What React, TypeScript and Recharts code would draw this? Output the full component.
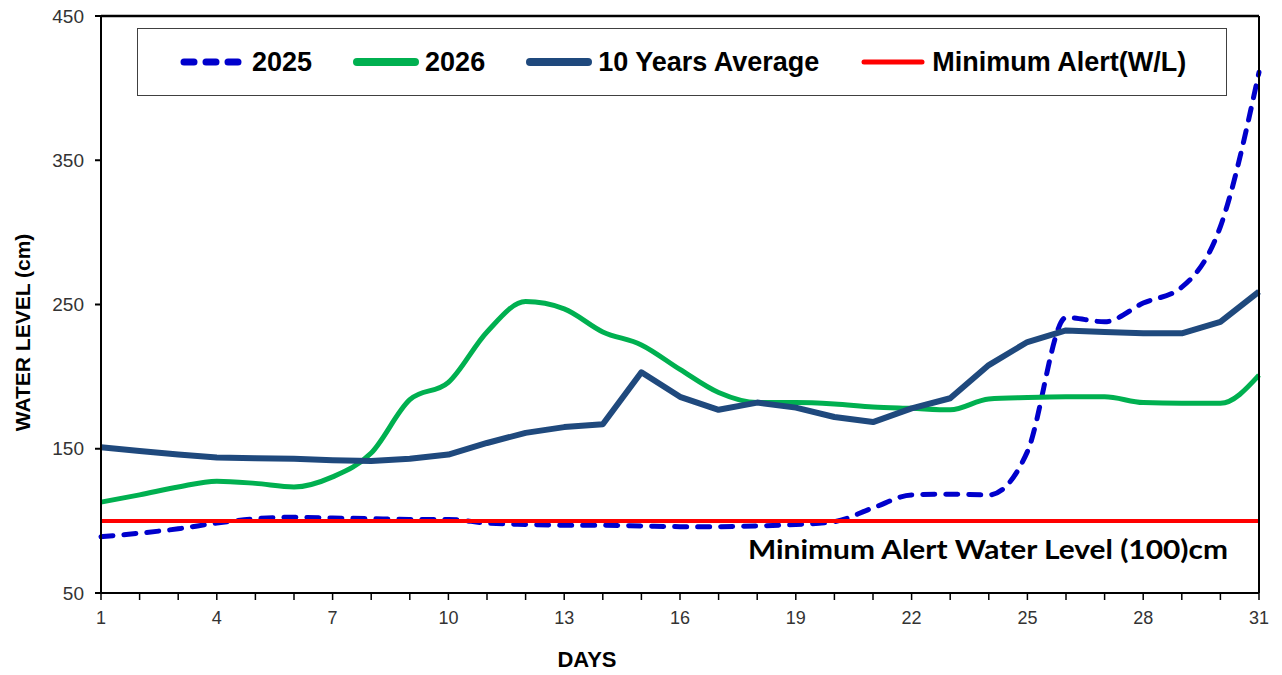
import React from "react";
import { LineChart, Line, XAxis, YAxis, Legend, ReferenceLine } from "recharts";

// daily water level readings (cm)
const days = [1, 2, 3, 4, 5, 6, 7, 8, 9, 10, 11, 12, 13, 14, 15, 16, 17, 18, 19, 20, 21, 22, 23, 24, 25, 26, 27, 28, 29, 30, 31];
const level2025 = [89, 91.5, 94.5, 98.5, 101.5, 102.5, 102, 101.5, 101, 101, 98.5, 97.5, 97, 97, 96.5, 96, 96, 96.5, 97.5, 99.5, 109, 118, 118.5, 118, 148, 241, 238, 251, 262, 304, 411];
const level2026 = [113, 118, 123.5, 127.5, 126, 123.5, 130.5, 147, 184, 196, 231, 252, 247, 231, 222, 205, 189, 182, 182, 181, 179, 178, 177, 184.5, 185.5, 186, 186, 182, 181.5, 181.5, 201];
const tenYearAvg = [151, 148.5, 146, 144, 143.5, 143, 142, 141.5, 143, 146, 154, 161, 165, 167, 203, 186, 177, 182, 178.5, 172, 168.5, 178, 185, 208, 224, 232, 231, 230, 230, 238, 259];
const minAlert = [100, 100, 100, 100, 100, 100, 100, 100, 100, 100, 100, 100, 100, 100, 100, 100, 100, 100, 100, 100, 100, 100, 100, 100, 100, 100, 100, 100, 100, 100, 100];

const yTicks = [50, 150, 250, 350, 450];
const labelledDays = [1, 4, 7, 10, 13, 16, 19, 22, 25, 28, 31];
const seriesOrder = ["y2025", "y2026", "avg", "alert"];

const data = days.map((day, i) => ({
  day,
  y2025: level2025[i],
  y2026: level2026[i],
  avg: tenYearAvg[i],
  alert: minAlert[i],
}));

const sans = "'Liberation Sans', Arial, sans-serif";

const sampleStyle: Record<string, { width: number; dash?: string }> = {
  y2025: { width: 7, dash: "10 12" },
  y2026: { width: 8 },
  avg: { width: 8 },
  alert: { width: 5 },
};

const LegendBox = ({ payload }: any) => {
  const items = [...(payload || [])].sort(
    (a: any, b: any) => seriesOrder.indexOf(a.dataKey) - seriesOrder.indexOf(b.dataKey)
  );
  return (
    <div
      style={{
        width: 1090,
        height: 68,
        boxSizing: "border-box",
        border: "1px solid #404040",
        background: "#fff",
        display: "flex",
        alignItems: "center",
        paddingLeft: 42,
        whiteSpace: "nowrap",
        overflow: "hidden",
      }}
    >
      {items.map((entry: any, i: number) => {
        const s = sampleStyle[entry.dataKey] || { width: 6 };
        return (
          <div
            key={entry.value}
            style={{ display: "flex", alignItems: "center", flexShrink: 0, marginRight: i < items.length - 1 ? 41 : 0 }}
          >
            <svg width={66} height={12}>
              <line
                x1={4}
                y1={6}
                x2={62}
                y2={6}
                stroke={entry.color}
                strokeWidth={s.width}
                strokeDasharray={s.dash}
                strokeLinecap="round"
              />
            </svg>
            <span style={{ marginLeft: 6, fontFamily: sans, fontWeight: 700, fontSize: 27, color: "#000" }}>
              {entry.value}
            </span>
          </div>
        );
      })}
    </div>
  );
};

const AlertLabel = ({ viewBox }: any) => (
  <text
    x={viewBox.x + viewBox.width - 31}
    y={viewBox.y + 38}
    textAnchor="end"
    textLength={480}
    lengthAdjust="spacingAndGlyphs"
    style={{ fontFamily: "Lato, 'Noto Sans', sans-serif", fontWeight: 700, fontSize: 27, fill: "#000" }}
  >
    Minimum Alert Water Level (100)cm
  </text>
);

const YTitle = ({ viewBox }: any) => (
  <text
    transform={`translate(${viewBox.x + 1},${viewBox.y + viewBox.height / 2 + 28}) rotate(-90)`}
    textAnchor="middle"
    dominantBaseline="central"
    style={{ fontFamily: sans, fontWeight: 700, fontSize: 21, fill: "#000" }}
  >
    WATER LEVEL (cm)
  </text>
);

const XTitle = ({ viewBox }: any) => (
  <text
    x={viewBox.x + viewBox.width / 2 - 93}
    y={viewBox.y + 74}
    textAnchor="middle"
    style={{ fontFamily: sans, fontWeight: 700, fontSize: 22, fill: "#000" }}
  >
    DAYS
  </text>
);

export default function App() {
  return (
    <div style={{ position: "absolute", left: 0, top: 0, width: 1282, height: 675, background: "#fff" }}>
      <LineChart width={1282} height={675} data={data} margin={{ top: 16, right: 23, left: 21, bottom: 7 }}>
        <XAxis
          dataKey="day"
          type="number"
          domain={[1, 31]}
          ticks={days}
          interval={0}
          height={75}
          tickSize={7}
          tickMargin={11}
          tickFormatter={(v) => (labelledDays.includes(v) ? String(v) : "")}
          tick={{ fill: "#333", fontSize: 18, fontFamily: sans }}
          axisLine={{ stroke: "#000", strokeWidth: 2 }}
          tickLine={{ stroke: "#000", strokeWidth: 1.5 }}
          label={{ content: XTitle }}
        />
        <YAxis
          type="number"
          domain={[50, 450]}
          ticks={yTicks}
          interval={0}
          width={80}
          tickSize={6}
          tickMargin={11}
          tick={{ fill: "#333", fontSize: 19, fontFamily: sans }}
          axisLine={{ stroke: "#000", strokeWidth: 2 }}
          tickLine={{ stroke: "#000", strokeWidth: 2 }}
          label={{ content: YTitle }}
        />
        <Line
          name="2025"
          dataKey="y2025"
          type="monotone"
          stroke="#0000cc"
          strokeWidth={5}
          strokeDasharray="12 11"
          strokeLinecap="round"
          dot={false}
          activeDot={false}
          isAnimationActive={false}
        />
        <Line
          name="2026"
          dataKey="y2026"
          type="monotone"
          stroke="#00b050"
          strokeWidth={5}
          dot={false}
          activeDot={false}
          isAnimationActive={false}
        />
        <Line
          name="10 Years Average"
          dataKey="avg"
          type="linear"
          stroke="#1f497d"
          strokeWidth={6}
          strokeLinejoin="round"
          dot={false}
          activeDot={false}
          isAnimationActive={false}
        />
        <Line
          name="Minimum Alert(W/L)"
          dataKey="alert"
          type="linear"
          stroke="#ff0000"
          strokeWidth={4}
          dot={false}
          activeDot={false}
          isAnimationActive={false}
        />
        <ReferenceLine y={100} stroke="none" label={<AlertLabel />} />
        <ReferenceLine y={450} stroke="#000" strokeWidth={2.5} />
        <ReferenceLine x={31} stroke="#000" strokeWidth={2} />
        <Legend
          layout="vertical"
          verticalAlign="middle"
          align="center"
          itemSorter={(item: any) => seriesOrder.indexOf(item.dataKey)}
          content={<LegendBox />}
          wrapperStyle={{ position: "absolute", left: 137, top: 28, width: 1090, height: 68 }}
        />
      </LineChart>
    </div>
  );
}
